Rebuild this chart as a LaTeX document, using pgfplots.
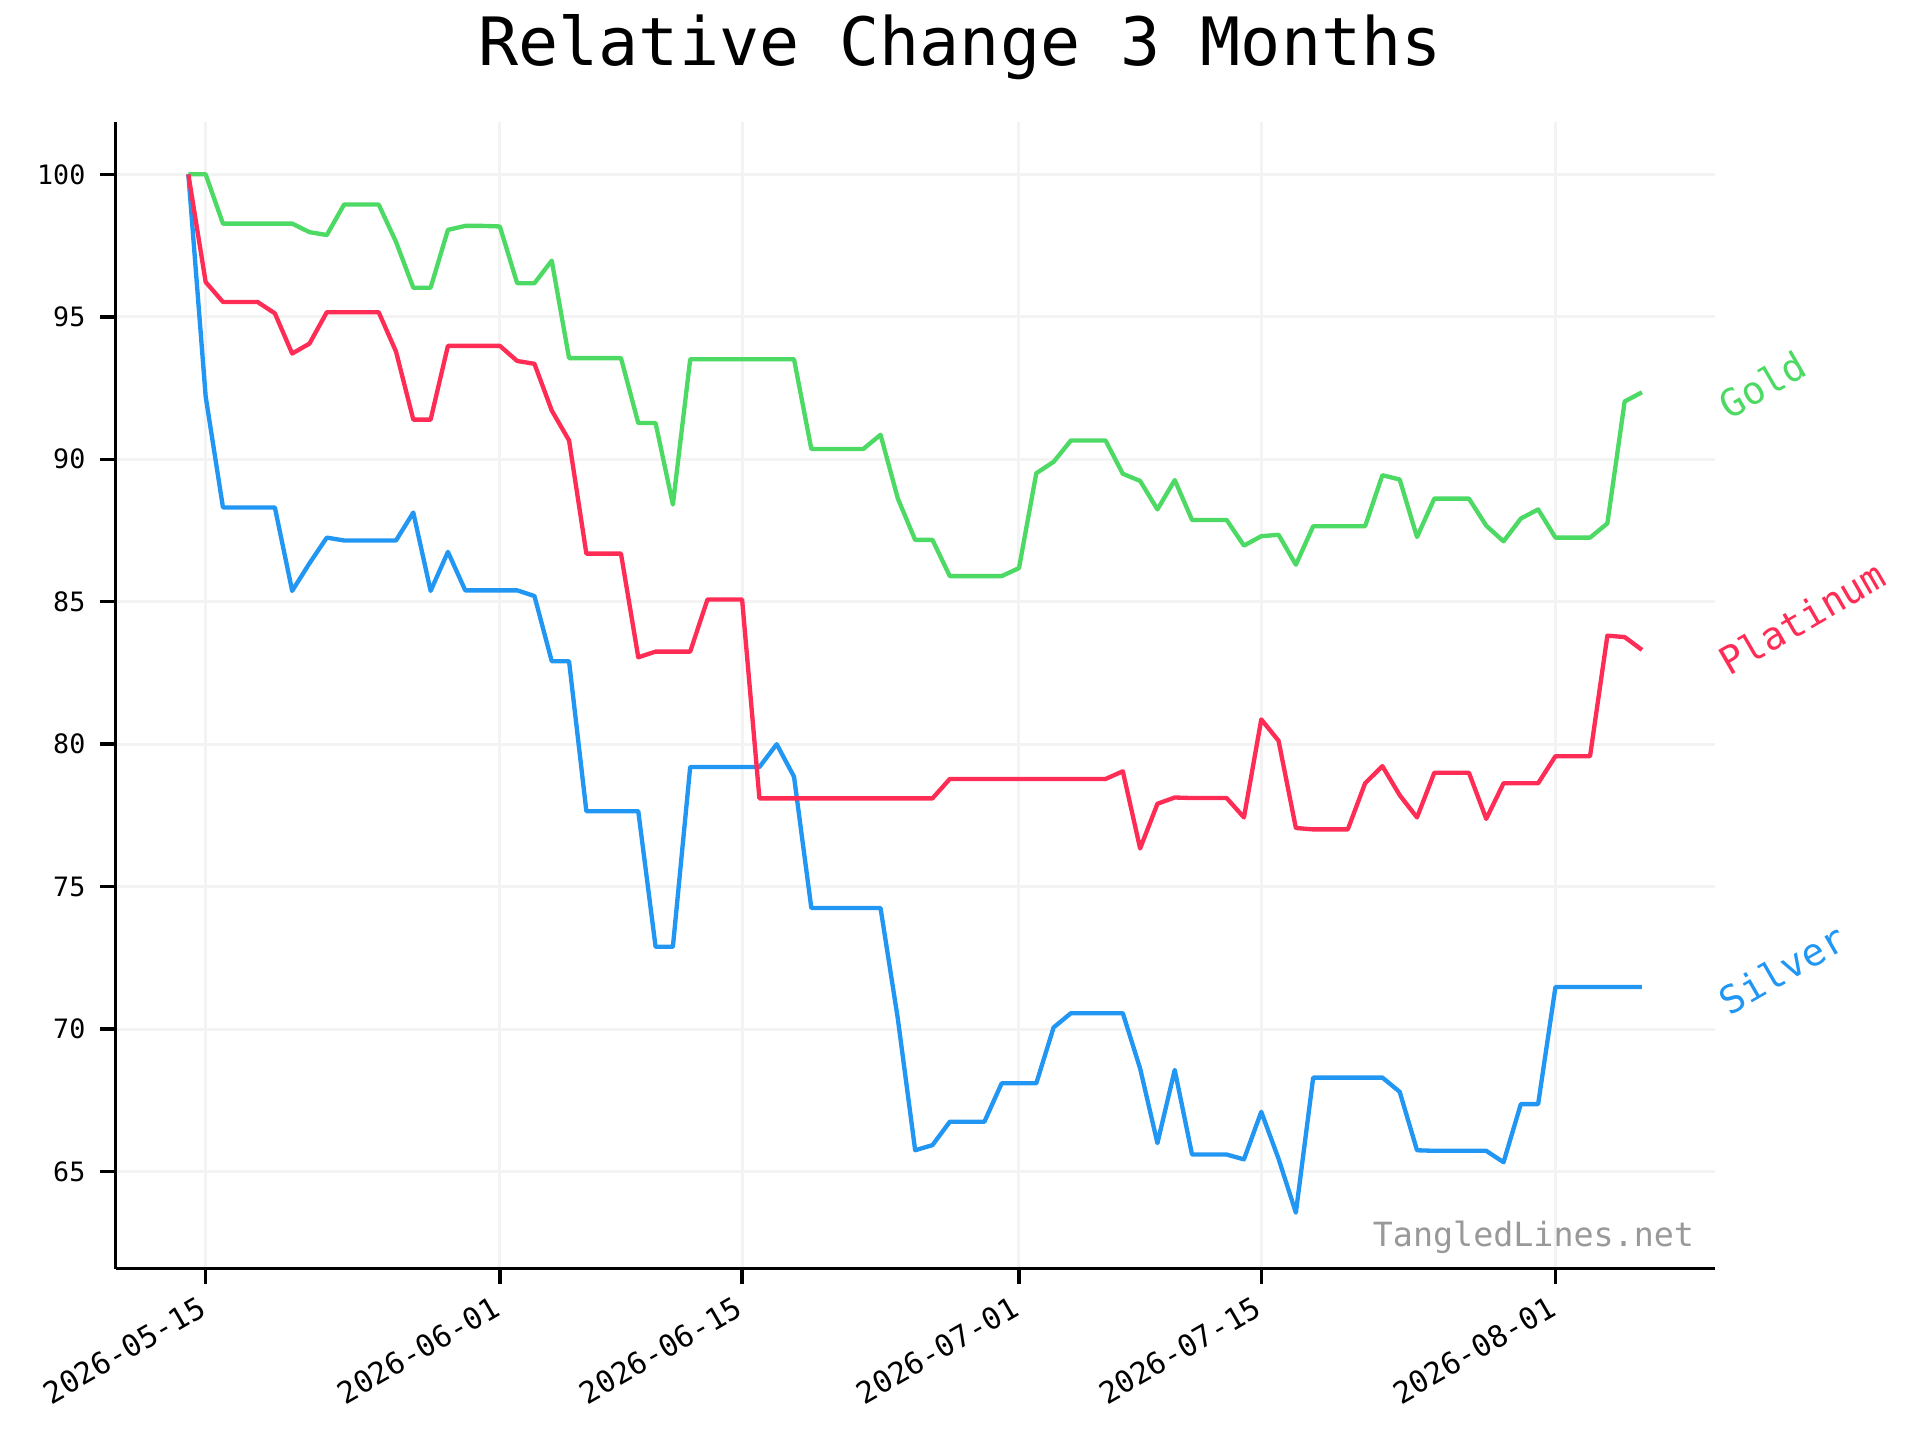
\documentclass[border=0pt]{standalone}
\usepackage{fontspec}
\setmainfont{DejaVu Sans Mono}
\usepackage{pgfplots}
\usepackage{pgfplotstable}
\pgfplotsset{compat=1.18}
\definecolor{cgold}{HTML}{4CD964}
\definecolor{cplat}{HTML}{FF2D55}
\definecolor{csil}{HTML}{2196F3}
\definecolor{gridc}{HTML}{F3F3F3}
\definecolor{wm}{HTML}{999999}

\pgfplotstableread{
d v
-1 100
0 100
1 98.27
2 98.27
3 98.27
4 98.27
5 98.27
6 97.97
7 97.87
8 98.94
9 98.94
10 98.94
11 97.63
12 96.02
13 96.02
14 98.05
15 98.19
16 98.19
17 98.17
18 96.18
19 96.18
20 96.97
21 93.55
22 93.55
23 93.55
24 93.55
25 91.27
26 91.27
27 88.41
28 93.51
29 93.51
30 93.51
31 93.51
32 93.51
33 93.51
34 93.51
35 90.36
36 90.36
37 90.36
38 90.36
39 90.86
40 88.62
41 87.17
42 87.17
43 85.90
44 85.90
45 85.90
46 85.90
47 86.18
48 89.51
49 89.91
50 90.66
51 90.66
52 90.66
53 89.49
54 89.24
55 88.24
56 89.27
57 87.87
58 87.87
59 87.87
60 86.97
61 87.30
62 87.35
63 86.30
64 87.65
65 87.65
66 87.65
67 87.65
68 89.44
69 89.29
70 87.27
71 88.62
72 88.62
73 88.62
74 87.67
75 87.12
76 87.92
77 88.24
78 87.25
79 87.25
80 87.25
81 87.75
82 92.03
83 92.35
}\gold

\pgfplotstableread{
d v
-1 100
0 96.22
1 95.52
2 95.52
3 95.52
4 95.12
5 93.71
6 94.06
7 95.16
8 95.16
9 95.16
10 95.16
11 93.78
12 91.39
13 91.39
14 93.98
15 93.98
16 93.98
17 93.98
18 93.45
19 93.35
20 91.71
21 90.66
22 86.69
23 86.69
24 86.69
25 83.05
26 83.25
27 83.25
28 83.25
29 85.08
30 85.08
31 85.08
32 78.10
33 78.10
34 78.10
35 78.10
36 78.10
37 78.10
38 78.10
39 78.10
40 78.10
41 78.10
42 78.10
43 78.78
44 78.78
45 78.78
46 78.78
47 78.78
48 78.78
49 78.78
50 78.78
51 78.78
52 78.78
53 79.05
54 76.34
55 77.91
56 78.13
57 78.11
58 78.11
59 78.11
60 77.43
61 80.87
62 80.12
63 77.06
64 77.01
65 77.01
66 77.01
67 78.63
68 79.23
69 78.21
70 77.43
71 79.00
72 79.00
73 79.00
74 77.38
75 78.63
76 78.63
77 78.63
78 79.58
79 79.58
80 79.58
81 83.81
82 83.76
83 83.31
}\plat

\pgfplotstableread{
d v
-1 100
0 92.21
1 88.31
2 88.31
3 88.31
4 88.31
5 85.38
6 86.35
7 87.25
8 87.15
9 87.15
10 87.15
11 87.15
12 88.13
13 85.38
14 86.75
15 85.40
16 85.40
17 85.40
18 85.40
19 85.20
20 82.91
21 82.91
22 77.65
23 77.65
24 77.65
25 77.65
26 72.89
27 72.89
28 79.20
29 79.20
30 79.20
31 79.20
32 79.20
33 80.00
34 78.86
35 74.25
36 74.25
37 74.25
38 74.25
39 74.25
40 70.36
41 65.75
42 65.93
43 66.75
44 66.75
45 66.75
46 68.10
47 68.10
48 68.10
49 70.06
50 70.56
51 70.56
52 70.56
53 70.56
54 68.62
55 66.00
56 68.57
57 65.60
58 65.60
59 65.60
60 65.43
61 67.10
62 65.45
63 63.56
64 68.30
65 68.30
66 68.30
67 68.30
68 68.30
69 67.80
70 65.75
71 65.73
72 65.73
73 65.73
74 65.73
75 65.33
76 67.37
77 67.37
78 71.48
79 71.48
80 71.48
81 71.48
82 71.48
83 71.48
}\silv

\begin{document}
\begin{tikzpicture}
\useasboundingbox (-34.7pt,-51.45pt) rectangle (541.3pt,380.55pt);
\begin{axis}[
  at={(0pt,0pt)}, anchor=south west,
  scale only axis, width=479.7pt, height=343.9pt,
  xmin=-5.2, xmax=87.2, ymin=61.6, ymax=101.83,
  axis lines*=left,
  axis line style={-, line width=1.05pt, black},
  tick align=outside,
  major tick length=4.7pt,
  every tick/.style={line width=1.05pt, black},
  grid=major,
  grid style={gridc, line width=0.9pt},
  xtick={0,17,31,47,61,78},
  xticklabels={2026-05-15,2026-06-01,2026-06-15,2026-07-01,2026-07-15,2026-08-01},
  ytick={65,70,75,80,85,90,95,100},
  /pgf/number format/assume math mode=true,
  yticklabel style={font=\fontsize{8}{9.6}\selectfont, anchor=east, inner sep=0pt, xshift=-4.2pt},
  xticklabel style={font=\fontsize{9}{10.8}\selectfont, xshift=-2.6pt, yshift=-3.1pt, rotate=30, anchor=north east, inner sep=0pt},
  clip=false,
  every axis plot/.append style={line width=1.3pt, line join=round},
]
\addplot[cgold, no markers] table[x=d, y=v] {\gold};
\addplot[csil, no markers] table[x=d, y=v] {\silv};
\addplot[cplat, no markers] table[x=d, y=v] {\plat};
\node[anchor=base west, rotate=30, inner sep=0pt, text=cgold, font=\fontsize{11.5}{14}\selectfont] at (axis cs:88.0,91.35) {Gold};
\node[anchor=base west, rotate=30, inner sep=0pt, text=cplat, font=\fontsize{11.5}{14}\selectfont] at (axis cs:88.0,82.36) {Platinum};
\node[anchor=base west, rotate=30, inner sep=0pt, text=csil, font=\fontsize{11.5}{14}\selectfont] at (axis cs:88.0,70.44) {Silver};
\end{axis}
\node[anchor=base, inner sep=0pt, font=\fontsize{20}{24}\selectfont] at (253.3pt,360.75pt) {Relative Change 3 Months};
\node[anchor=base east, inner sep=0pt, text=wm, font=\fontsize{10}{12}\selectfont] at (473.7pt,6.7pt) {TangledLines.net};
\end{tikzpicture}
\end{document}
